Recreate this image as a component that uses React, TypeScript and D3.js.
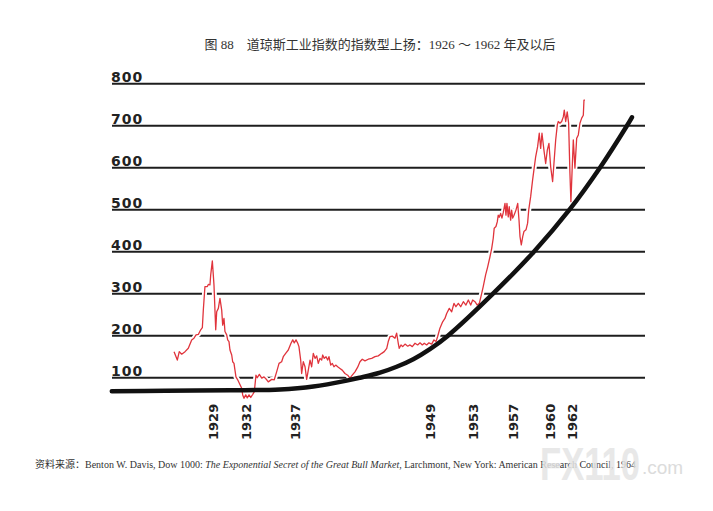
import React from "react";
import * as d3 from "d3";

// Dow Jones Industrial Average (fractional years)
const djYears = [
  1925.42, 1925.72, 1925.9, 1926.12, 1926.43, 1926.73, 1927.04, 1927.25, 1927.44, 1927.65,
  1927.87, 1928.02, 1928.11, 1928.26, 1928.48, 1928.57, 1928.72, 1928.79, 1928.94, 1929.09,
  1929.25, 1929.34, 1929.49, 1929.64, 1929.8, 1929.89, 1930.01, 1930.1, 1930.26, 1930.35,
  1930.47, 1930.56, 1930.72, 1930.81, 1930.93, 1931.02, 1931.11, 1931.27, 1931.42, 1931.64,
  1931.73, 1931.85, 1932.01, 1932.15, 1932.31, 1932.47, 1932.65, 1932.8, 1932.95, 1933.07,
  1933.26, 1933.48, 1933.69, 1933.94, 1934.08, 1934.4, 1934.63, 1934.85, 1935.07, 1935.31,
  1935.46, 1935.68, 1935.92, 1936.17, 1936.33, 1936.47, 1936.63, 1936.79, 1936.9, 1937.06,
  1937.15, 1937.3, 1937.46, 1937.61, 1937.76, 1937.92, 1938.07, 1938.22, 1938.38, 1938.53,
  1938.68, 1938.83, 1938.99, 1939.08, 1939.23, 1939.39, 1939.54, 1939.66, 1939.82, 1939.97,
  1940.12, 1940.28, 1940.46, 1940.67, 1940.88, 1941.13, 1941.38, 1941.59, 1941.8, 1942.05,
  1942.3, 1942.51, 1942.72, 1942.97, 1943.27, 1943.59, 1943.89, 1944.19, 1944.51, 1944.74,
  1944.97, 1945.11, 1945.27, 1945.48, 1945.73, 1945.88, 1946.03, 1946.12, 1946.28, 1946.44,
  1946.65, 1946.9, 1947.11, 1947.32, 1947.57, 1947.81, 1948.03, 1948.24, 1948.42, 1948.64,
  1948.85, 1949.1, 1949.31, 1949.5, 1949.65, 1949.86, 1950.11, 1950.32, 1950.48, 1950.72,
  1950.94, 1951.15, 1951.33, 1951.55, 1951.77, 1952.01, 1952.25, 1952.47, 1952.69, 1952.87,
  1953.08, 1953.29, 1953.48, 1953.7, 1953.84, 1954.06, 1954.25, 1954.46, 1954.62, 1954.76,
  1954.85, 1955.01, 1955.13, 1955.22, 1955.31, 1955.44, 1955.56, 1955.68, 1955.84, 1955.93,
  1956.02, 1956.14, 1956.23, 1956.36, 1956.45, 1956.55, 1956.67, 1956.85, 1957.01, 1957.13,
  1957.22, 1957.34, 1957.47, 1957.58, 1957.77, 1957.92, 1958.02, 1958.2, 1958.38, 1958.5,
  1958.66, 1958.84, 1958.99, 1959.12, 1959.24, 1959.42, 1959.58, 1959.73, 1959.88, 1960.04,
  1960.22, 1960.34, 1960.5, 1960.65, 1960.74, 1960.89, 1961.05, 1961.2, 1961.29, 1961.42,
  1961.56, 1961.69, 1961.81, 1961.9, 1962.0, 1962.12, 1962.27, 1962.43, 1962.58, 1962.73,
  1962.89, 1963.04, 1963.1, 1963.19,
];
const djValues = [
  162, 142, 162, 156, 162, 170, 190, 194, 202, 203,
  214, 219, 261, 317, 317, 322, 321, 345, 378, 321,
  214, 257, 265, 289, 261, 225, 241, 210, 202, 190,
  186, 166, 154, 138, 134, 118, 102, 95, 87, 75,
  59, 51, 59, 52, 59, 53, 60, 67, 106, 100,
  108, 99, 102, 95, 90, 96, 95, 114, 134, 138,
  150, 158, 166, 182, 190, 183, 190, 182, 174, 142,
  110, 138, 126, 96, 118, 142, 126, 158, 146, 152,
  134, 146, 142, 154, 146, 150, 142, 150, 130, 134,
  126, 130, 126, 122, 118, 110, 106, 99, 106, 114,
  125, 138, 144, 140, 144, 146, 150, 152, 158, 162,
  170, 186, 198, 199, 194, 206, 182, 170, 178, 174,
  180, 175, 178, 174, 182, 178, 183, 178, 182, 178,
  183, 180, 190, 186, 198, 218, 233, 241, 253, 265,
  257, 277, 269, 277, 269, 281, 273, 285, 273, 285,
  281, 273, 277, 301, 317, 345, 364, 388, 408, 432,
  456, 460, 471, 487, 482, 491, 480, 493, 515, 487,
  515, 483, 507, 475, 499, 480, 487, 499, 515, 475,
  436, 416, 436, 448, 452, 468, 499, 531, 571, 595,
  626, 650, 682, 646, 682, 642, 610, 642, 658, 602,
  567, 610, 666, 702, 710, 706, 710, 721, 737, 710,
  733, 706, 587, 519, 587, 666, 599, 670, 678, 706,
  718, 725, 761, 761,
];

// exponential trend curve (black)
const trendYears = [
  1919.7, 1924.6, 1930.6, 1935.16, 1938.22, 1941.29, 1942.51, 1944.35, 1945.88, 1947.41,
  1948.94, 1950.6, 1954.74, 1958.5, 1961.77, 1964.57, 1967.05, 1967.51,
];
const trendValues = [
  68, 69, 70, 72, 79, 93, 100, 112, 126, 144,
  168, 200, 300, 400, 500, 600, 700, 720,
];

const yTicks = [100, 200, 300, 400, 500, 600, 700, 800];
const yTickLabels = ["100", "200", "300", "400", "500", "600", "700", "800"];
// year labels and where they sit along the time axis
const xTickLabels = ["1929", "1932", "1937", "1949", "1953", "1957", "1960", "1962"];
const xTickAt = [1929, 1932.1, 1936.55, 1949, 1952.9, 1956.6, 1960, 1962];

const title = "图 88　道琼斯工业指数的指数型上扬：1926 ～ 1962 年及以后";

const App: React.FC = () => {
  const width = 713;
  const height = 511;

  const x = d3.scaleLinear().domain([1929, 1962]).range([213, 572]);
  const y = d3.scaleLinear().domain([0, 800]).range([419.7, 83.7]);

  const gridLeft = 112;
  const gridRight = 645;

  const djPoints: [number, number][] = djYears.map((t, i) => [t, djValues[i]]);
  const trendPoints: [number, number][] = trendYears.map((t, i) => [t, trendValues[i]]);

  const djLine = d3
    .line<[number, number]>()
    .x((d) => x(d[0]))
    .y((d) => y(d[1]));

  const trendLine = d3
    .line<[number, number]>()
    .x((d) => x(d[0]))
    .y((d) => y(d[1]))
    .curve(d3.curveCatmullRom.alpha(0.5));

  const labelFont = "'DejaVu Sans', sans-serif";

  return (
    <svg
      width={width}
      height={height}
      style={{ position: "absolute", left: 0, top: 0, background: "#fff" }}
    >
      {/* Title */}
      <text
        x={380}
        y={49}
        textAnchor="middle"
        fontFamily="'Liberation Serif', 'Noto Sans CJK SC', serif"
        fontSize={13}
        fill="#333"
      >
        {title}
      </text>

      {/* Grid lines + Y labels */}
      {yTicks.map((v, i) => (
        <g key={v}>
          <line
            x1={gridLeft}
            x2={gridRight}
            y1={y(v)}
            y2={y(v)}
            stroke="#1e1e1e"
            strokeWidth={2}
          />
          <text
            x={111}
            y={y(v) - 2}
            fontFamily={labelFont}
            fontWeight="bold"
            fontSize={14}
            letterSpacing={1}
            fill="#222"
          >
            {yTickLabels[i]}
          </text>
        </g>
      ))}

      {/* white halo cuts the grid where the index crosses it */}
      <path d={djLine(djPoints) ?? ""} fill="none" stroke="#fff" strokeWidth={5} strokeLinejoin="round" />
      <path d={djLine(djPoints) ?? ""} fill="none" stroke="#e0343c" strokeWidth={1.3} strokeLinejoin="round" />

      {/* Exponential curve */}
      <path
        d={trendLine(trendPoints) ?? ""}
        fill="none"
        stroke="#111"
        strokeWidth={4.5}
        strokeLinecap="round"
      />

      {/* Year labels */}
      {xTickLabels.map((lab, i) => (
        <text
          key={lab}
          transform={`translate(${x(xTickAt[i])},440) rotate(-90)`}
          dominantBaseline="central"
          fontFamily={labelFont}
          fontWeight="bold"
          fontSize={13}
          fill="#222"
        >
          {lab}
        </text>
      ))}

      {/* Source */}
      <text x={35} y={468} fontSize={10} fill="#333" fontFamily="'Liberation Serif', 'Noto Sans CJK SC', serif">
        资料来源：Benton W. Davis, Dow 1000:{" "}
        <tspan fontStyle="italic">The Exponential Secret of the Great Bull Market</tspan>, Larchmont, New York: American
        Research Council, 1964
      </text>

      {/* watermark */}
      <g opacity={0.85}>
        <text
          x={540}
          y={480}
          fontFamily="'Liberation Sans', sans-serif"
          fontWeight="bold"
          fontSize={46}
          textLength={100}
          lengthAdjust="spacingAndGlyphs"
          fill="#e4e4e4"
        >
          FX110
        </text>
        <text x={642} y={474} fontFamily="'Liberation Sans', sans-serif" fontSize={19} fill="#d6d6d6">
          .com
        </text>
      </g>
    </svg>
  );
};

export default App;
